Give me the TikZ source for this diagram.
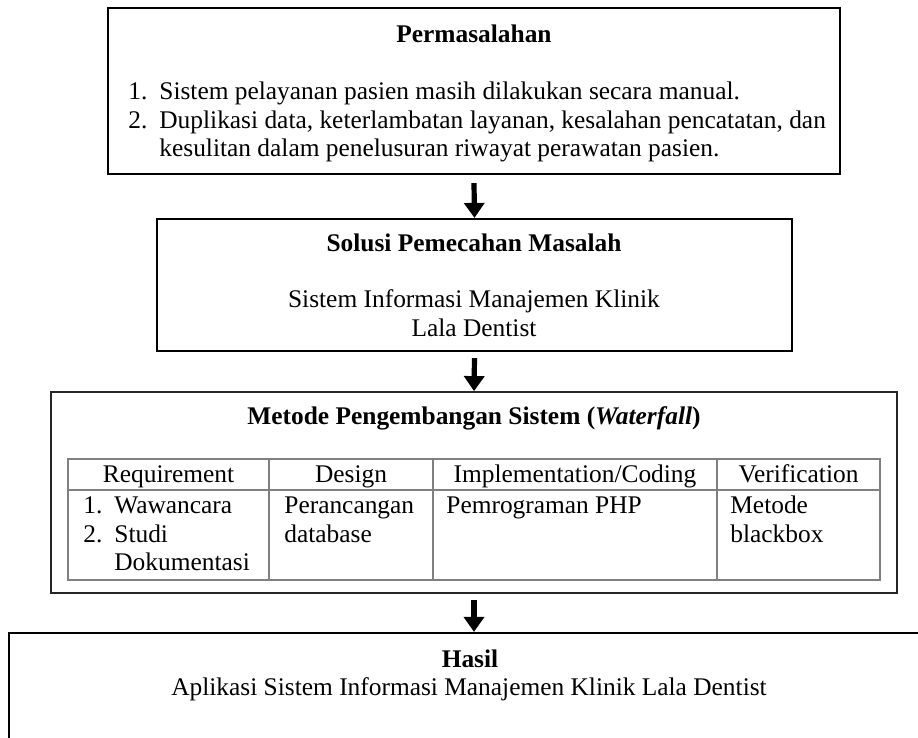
\documentclass[tikz,border=0pt]{standalone}
\usepackage{fontspec}
\setmainfont{Liberation Serif}
\usetikzlibrary{arrows.meta}
\begin{document}
\begin{tikzpicture}[x=0.5pt,y=-0.5pt,
  boxline/.style={draw=black,line width=1.1pt,inner sep=0},
  txt/.style={inner sep=0,anchor=base west,font=\fontsize{12.7}{14}\selectfont},
  ctxt/.style={inner sep=0,anchor=base,font=\fontsize{12.7}{14}\selectfont},
  btxt/.style={inner sep=0,anchor=base,font=\fontsize{12.7}{14}\selectfont\bfseries},
  arr/.style={-{Triangle[width=10pt,length=7.5pt]},line width=2.6pt},
  tblline/.style={draw=black!50,line width=0.6pt}]
\useasboundingbox (0,0) rectangle (918,738);
\clip (0,0) rectangle (918,738);
% boxes
\node[boxline,minimum width=366pt,minimum height=83pt] (p) at (474,91) {};
\node[boxline,minimum width=317.5pt,minimum height=66pt] (s) at (474.5,285) {};
\node[boxline,draw=black!85,line width=0.9pt,minimum width=423pt,minimum height=100.5pt] (m) at (474,492.5) {};
\node[boxline,minimum width=465pt,minimum height=100pt] (h) at (474,733) {};
% arrows
\draw[arr] ([yshift=-4pt]p.south) -- (s.north);
\draw[arr] ([yshift=-3pt]s.south) -- (m.north);
\draw[arr] ([yshift=-3pt]m.south) -- (h.north);
% box 1 text
\node[btxt] (pt) at (474,43) {Permasalahan};
\node[txt] (pn1) at (128,100) {1.};
\node[txt] (pl1) at (159,100) {Sistem pelayanan pasien masih dilakukan secara manual.};
\node[txt] (pn2) at (128,129) {2.};
\node[txt] (pl2) at (159,129) {Duplikasi data, keterlambatan layanan, kesalahan pencatatan, dan};
\node[txt] (pl3) at (159,157) {kesulitan dalam penelusuran riwayat perawatan pasien.};
% box 2 text
\node[btxt] (st) at (474,252) {Solusi Pemecahan Masalah};
\node[ctxt] (s1) at (474,308) {Sistem Informasi Manajemen Klinik};
\node[ctxt] (s2) at (474,337) {Lala Dentist};
% box 3 text
\node[btxt] (mt) at (474,425) {Metode Pengembangan Sistem (\textit{Waterfall})};
% table
\draw[tblline] (68,459) rectangle (880,580);
\draw[tblline] (68,490) -- (880,490);
\draw[tblline] (269,459) -- (269,580);
\draw[tblline] (433,459) -- (433,580);
\draw[tblline] (717,459) -- (717,580);
\node[ctxt] (c1) at (168.5,483) {Requirement};
\node[ctxt] (c2) at (351,483) {Design};
\node[ctxt] (c3) at (575,483) {Implementation/Coding};
\node[ctxt] (c4) at (798.5,483) {Verification};
\node[txt] (r1n) at (83,514) {1.};
\node[txt] (r1) at (114,514) {Wawancara};
\node[txt] (r2n) at (83,543) {2.};
\node[txt] (r2) at (114,543) {Studi};
\node[txt] (r3) at (114,571) {Dokumentasi};
\node[txt] (d1) at (284,514) {Perancangan};
\node[txt] (d2) at (284,543) {database};
\node[txt] (i1) at (446,514) {Pemrograman PHP};
\node[txt] (v1) at (730,514) {Metode};
\node[txt] (v2) at (730,543) {blackbox};
% box 4 text
\node[btxt] (ht) at (470,668) {Hasil};
\node[ctxt] (h1) at (469,696) {Aplikasi Sistem Informasi Manajemen Klinik Lala Dentist};
\end{tikzpicture}
\end{document}
